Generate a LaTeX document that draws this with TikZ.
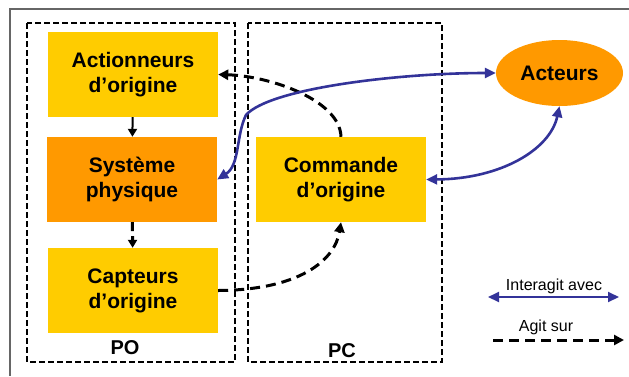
\documentclass[tikz,border=0pt]{standalone}
\usepackage{fontspec}
\setmainfont{Liberation Sans}
\usetikzlibrary{shapes}
\usetikzlibrary{positioning}
\usetikzlibrary{arrows.meta}
\definecolor{jaune}{HTML}{FFCC00}
\definecolor{orangeso}{HTML}{FF9900}
\definecolor{bleu}{HTML}{333399}

\begin{document}
\begin{tikzpicture}[x=1pt,y=-1pt]
	\tikzstyle{bloc}=[fill=jaune,minimum width=170pt,minimum height=85pt,inner sep=0pt,align=center,font=\bfseries\fontsize{21}{25}\selectfont];
	\tikzstyle{zone}=[line width=1.6pt,dash pattern=on 6pt off 3pt];
	\tikzstyle{agit}=[line width=3pt,dash pattern=on 10pt off 6pt,-{Triangle[length=10pt,width=10pt]}];
	\tikzstyle{inter}=[bleu,line width=2.6pt,{Triangle[length=11pt,width=10pt]}-{Triangle[length=11pt,width=10pt]}];
	\useasboundingbox (0,0) rectangle (629,376);
	\draw[gray!80!black,line width=1.5pt] (629,9) -- (10,9) -- (10,376);
	% PO et PC
	\draw[zone] (27,23) rectangle (235,362);
	\draw[zone] (248,23) rectangle (442,362);
	\path (125,348) node (po) {\bfseries\fontsize{20}{24}\selectfont PO};
	\path (342,351) node (pc) {\bfseries\fontsize{20}{24}\selectfont PC};
	% blocs
	\path (133,74.5)  node[bloc] (act) {Actionneurs\\d’origine};
	\path (132,179.5) node[bloc,fill=orangeso] (sys) {Système\\physique};
	\path (133,290.5) node[bloc] (capt) {Capteurs\\d’origine};
	\path (341,179.5) node[bloc] (cmd) {Commande\\d’origine};
	\path (559.5,73)  node[ellipse,fill=orangeso,minimum width=127pt,minimum height=66pt,inner sep=0pt,font=\bfseries\fontsize{21}{25}\selectfont] (acteurs) {Acteurs};
	% liens
	\draw[line width=2pt,-{Triangle[length=8pt,width=9pt]}] (act) -- (sys);
	\draw[line width=3pt,dash pattern=on 9pt off 5pt,-{Triangle[length=8pt,width=9pt]}] (sys) -- (capt);
	\draw[agit] (capt.east) .. controls (300,290) and (335,260) .. (cmd.south);
	\draw[agit] (cmd.north) .. controls (340,100) and (270,76) .. (act.east);
	\draw[inter] (sys.east) .. controls (240,165) and (236,135) .. (246,115)
		.. controls (270,88) and (400,73) .. (acteurs.west);
	\draw[inter] (cmd.east) .. controls (500,179) and (550,150) .. (acteurs.south);
	% legende
	\coordinate (i1) at (488,297);
	\coordinate (i2) at (619,297);
	\coordinate (a1) at (493,340);
	\coordinate (a2) at (624,340);
	\draw[inter,line width=2pt] (i1) -- (i2);
	\draw[agit] (a1) -- (a2);
	\path (554,286) node (ti) {\fontsize{16}{19}\selectfont Interagit avec};
	\path (546,327) node (ta) {\fontsize{16}{19}\selectfont Agit sur};
\end{tikzpicture}
\end{document}
